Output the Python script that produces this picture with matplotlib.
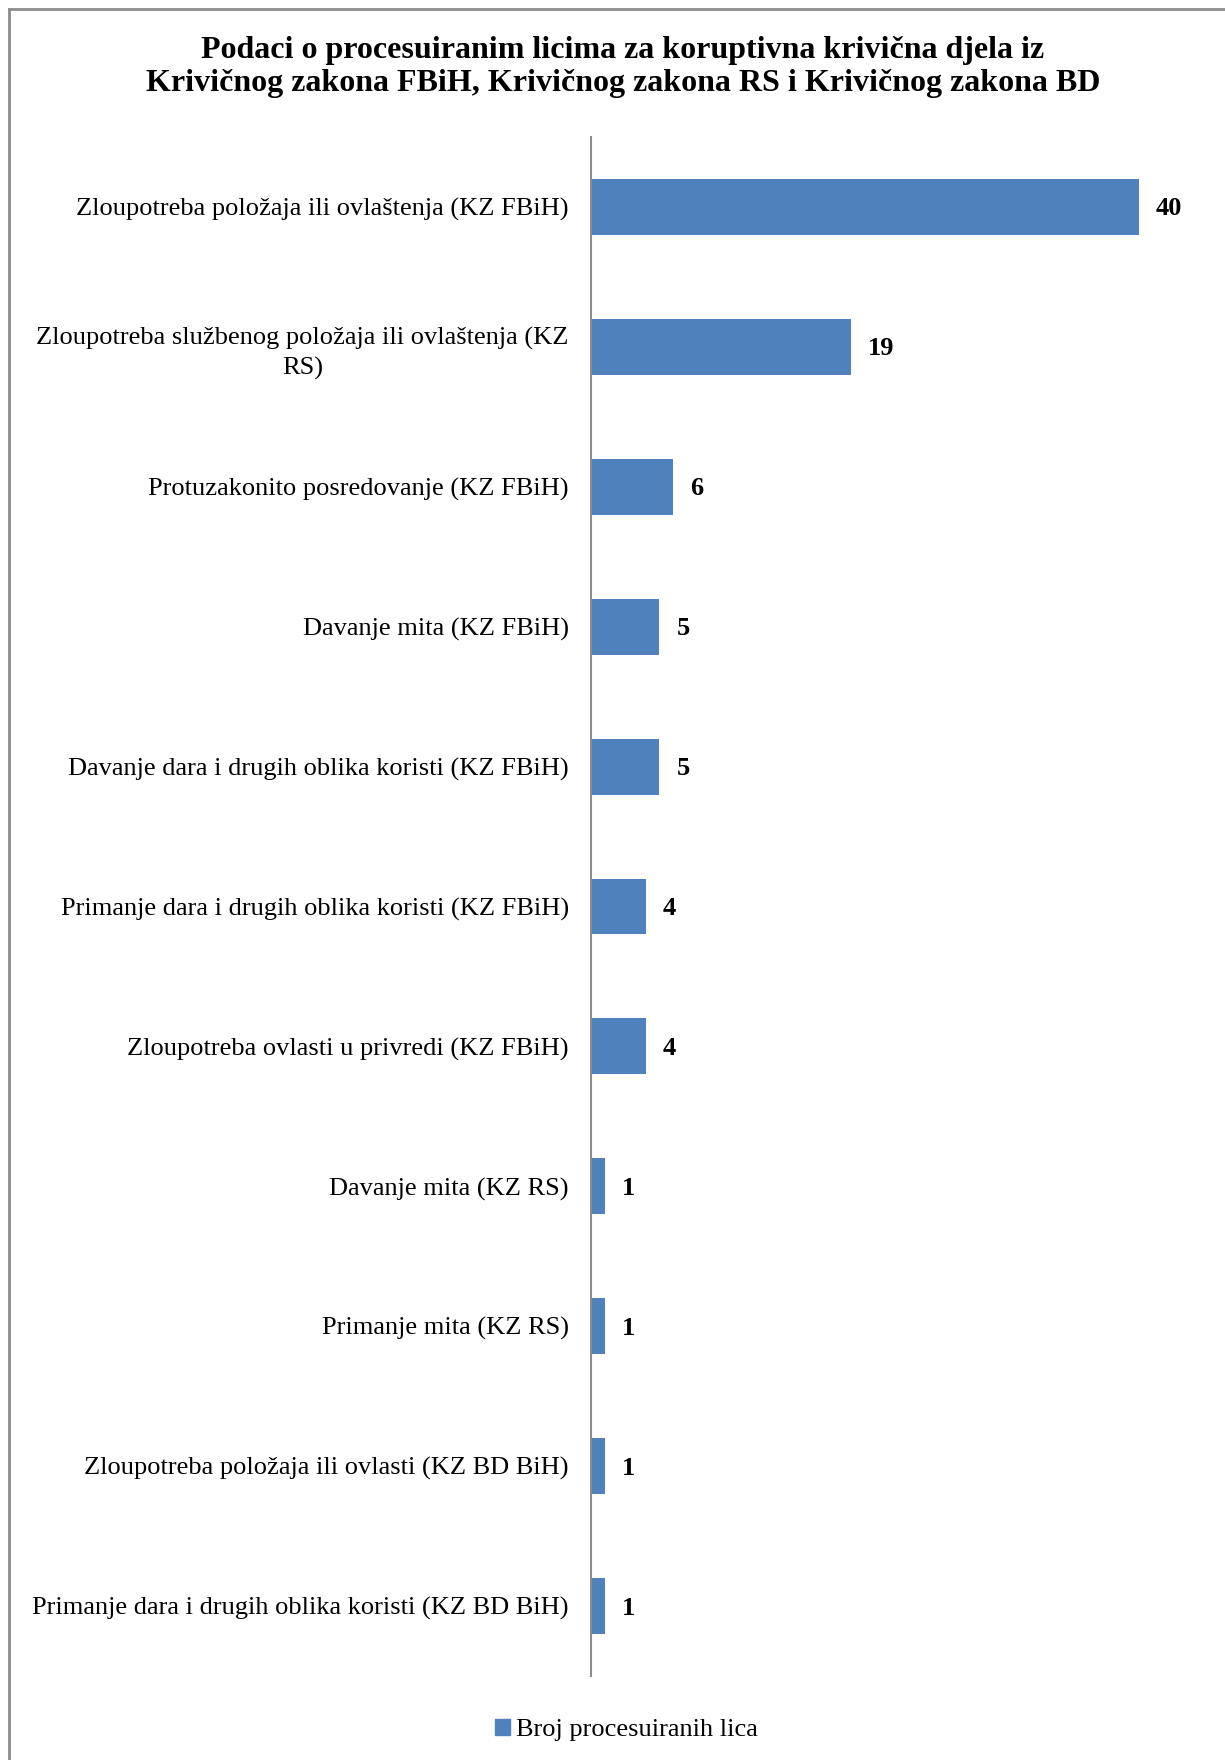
"""Horizontal bar chart of prosecuted persons per corruption offence."""

import matplotlib
matplotlib.use('Agg')
from matplotlib import pyplot
from matplotlib.lines import Line2D
from matplotlib.patches import Patch

categories = [
    'Zloupotreba položaja ili ovlaštenja (KZ FBiH)',
    'Zloupotreba službenog položaja ili ovlaštenja (KZ\nRS)',
    'Protuzakonito posredovanje (KZ FBiH)',
    'Davanje mita (KZ FBiH)',
    'Davanje dara i drugih oblika koristi (KZ FBiH)',
    'Primanje dara i drugih oblika koristi (KZ FBiH)',
    'Zloupotreba ovlasti u privredi (KZ FBiH)',
    'Davanje mita (KZ RS)',
    'Primanje mita (KZ RS)',
    'Zloupotreba položaja ili ovlasti (KZ BD BiH)',
    'Primanje dara i drugih oblika koristi (KZ BD BiH)',
]
values = [40, 19, 6, 5, 5, 4, 4, 1, 1, 1, 1]
series_name = 'Broj procesuiranih lica'
title = ('Podaci o procesuiranim licima za koruptivna krivična djela iz\n'
         'Krivičnog zakona FBiH, Krivičnog zakona RS i Krivičnog zakona BD')

color = '#4F81BD'
W, H = 1225, 1760

pyplot.rc('font', family=['Liberation Serif', 'DejaVu Serif'])
fig = pyplot.figure(figsize=(W / 100, H / 100), dpi=100)

# Axes placed in pixel terms of the reference.
left, right, top, bottom = 591, 1207, 137, 1676
ax = fig.add_axes([left / W, 1 - bottom / H, (right - left) / W,
                   (bottom - top) / H])

pos = list(range(len(categories)))
ax.barh(pos, values, height=0.4, color=color)
ax.set_xlim(0, 45)
ax.set_ylim(len(categories) - 0.5, -0.5)
ax.set_yticks(pos)
ax.set_yticklabels(categories, fontsize=19, multialignment='center',
                   linespacing=1.4)
ax.tick_params(axis='y', length=0, pad=16)
ax.set_xticks([])
for side in ['top', 'right', 'bottom']:
    ax.spines[side].set_visible(False)
ax.spines['left'].set_color('#8c8c8c')
ax.spines['left'].set_linewidth(1.5)

for y, v in zip(pos, values):
    ax.annotate(str(v), (v, y), xytext=(17, -2), textcoords='offset pixels',
                ha='left', va='center', fontsize=19, fontweight='bold')

fig.text(623 / W, 1 - 67 / H, title, ha='center', va='center',
         fontsize=23, fontweight='bold', linespacing=1.2)

fig.legend(handles=[Patch(color=color, label=series_name)],
           loc='center', bbox_to_anchor=(626 / W, 1 - 1730 / H),
           frameon=False, fontsize=19, handlelength=0.6, handleheight=0.6,
           handletextpad=0.2)

# Outer frame (only top and left edges are visible in the reference).
fig.add_artist(Line2D([9 / W, 1], [1 - 9 / H, 1 - 9 / H],
                      transform=fig.transFigure, color='#8c8c8c', lw=2))
fig.add_artist(Line2D([9 / W, 9 / W], [0, 1 - 9 / H],
                      transform=fig.transFigure, color='#8c8c8c', lw=2))

fig.savefig('out.png', dpi=100)
